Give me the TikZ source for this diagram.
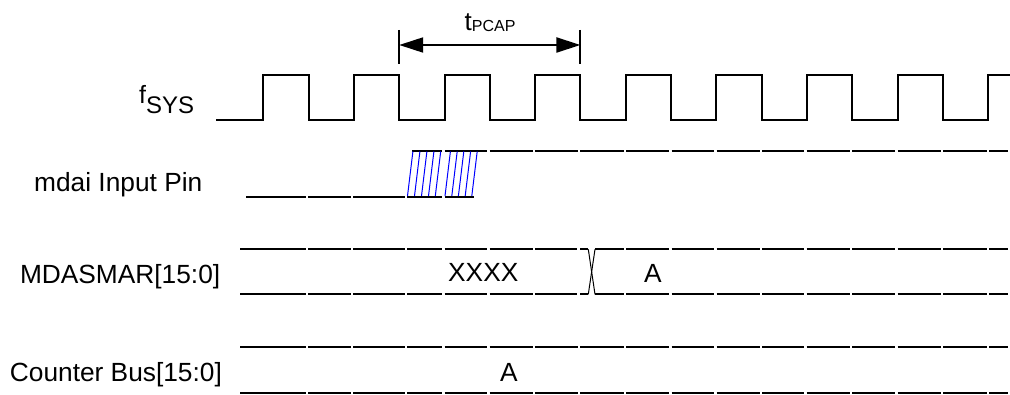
\documentclass[tikz,border=0pt]{standalone}
\usepackage{fontspec}
\setmainfont{Liberation Sans}
\usetikzlibrary{arrows.meta}
\tikzset{
  wave/.style={line width=2pt, black, line cap=butt, line join=miter},
  hatchline/.style={line width=1pt, blue},
  lbl/.style={inner sep=0pt, font=\fontsize{26.3}{30}\selectfont},
  bar/.style={line width=2pt, black},
  dimarrow/.style={line width=2pt, {Triangle[length=24pt,width=15pt]}-{Triangle[length=24pt,width=15pt]}}
}
\begin{document}
\begin{tikzpicture}[x=1pt,y=-1pt]
\useasboundingbox (0,0) rectangle (1010,395);

% ---- labels
\node[lbl, anchor=base west] (fsys) at (139,104) {\fontsize{25}{27}\selectfont f\fontsize{24}{26}\selectfont\raisebox{-9.5pt}{SYS}};
\node[lbl, anchor=base west] (mdai) at (34,191.5) {mdai Input Pin};
\node[lbl, anchor=base west] (mdasmar) at (19.8,284) {MDASMAR[15:0]};
\node[lbl, anchor=base west] (cbus) at (9.7,382) {Counter Bus[15:0]};

% ---- t_PCAP
\coordinate (pl) at (399.2,45);
\coordinate (pr) at (580.4,45);
\draw[bar] (399.2,30) -- (399.2,64);
\draw[bar] (580.4,30) -- (580.4,64);
\draw[dimarrow] (pl) -- (pr);
\node[inner sep=0pt, anchor=base west] (tpcap) at (464.5,31) {\fontsize{26}{28}\selectfont t\fontsize{16}{18}\selectfont\raisebox{-1pt}{PCAP}};

% ---- clock
\draw[wave] (216,120)
  \foreach \k in {0,...,7}{ -- ({263.3+90.6*\k},120) -- ({263.3+90.6*\k},75) -- ({308.6+90.6*\k},75) -- ({308.6+90.6*\k},120) }
  -- (988.1,120) -- (988.1,75) -- (1010,75);

% ---- mdai input pin
\foreach \a/\b in {246/305.8, 308.2/350.8, 353.2/404.8, 407.2/442.3, 444.7/474}
  \draw[wave] (\a,196.7) -- (\b,196.7);
\foreach \a/\b in {412/442.3, 444.7/487.1, 489.5/532.5, 534.9/577.8, 580.2/623.8, 626.2/669.1, 671.5/714.1, 716.5/759.6, 762/804.2, 806.6/850, 852.4/895.1, 897.5/941, 943.4/986.8, 989.2/1008}
  \draw[wave] (\a,150.7) -- (\b,150.7);
\foreach \xb in {407.5,414.5,421.5,428.5,435.3,445,451.8,458.4,465.2,471.8}
  \draw[hatchline] (\xb,196) -- ({\xb+5.4},151.5);

% ---- MDASMAR
\foreach \yy in {249.3,294.3}{
  \foreach \a/\b in {240/305.8, 308.2/350.8, 353.2/404.8, 407.2/442.3, 444.7/487.1, 489.5/532.5, 534.9/577, 580.2/588.3, 595/623.8, 626.2/669.1, 671.5/714.1, 716.5/759.6, 762/804.2, 806.6/850, 852.4/895.1, 897.5/941, 943.4/986.8, 989.2/1008}
    \draw[wave] (\a,\yy) -- (\b,\yy);
}
\draw[line width=1pt] (588.3,249.3) -- (595,294.3);
\draw[line width=1pt] (595,249.3) -- (588.3,294.3);
\node[lbl, anchor=base west] (xxxx) at (448,282) {XXXX};
\node[lbl, anchor=base] (ma) at (653,283) {A};

% ---- Counter bus
\foreach \yy in {347.5,392.8}{
  \foreach \a/\b in {240/305.8, 308.2/350.8, 353.2/404.8, 407.2/442.3, 444.7/487.1, 489.5/532.5, 534.9/577.8, 580.2/623.8, 626.2/669.1, 671.5/714.1, 716.5/759.6, 762/804.2, 806.6/850, 852.4/895.1, 897.5/941, 943.4/986.8, 989.2/1008}
    \draw[wave] (\a,\yy) -- (\b,\yy);
}
\node[lbl, anchor=base] (ca) at (509,382) {A};
\end{tikzpicture}
\end{document}
